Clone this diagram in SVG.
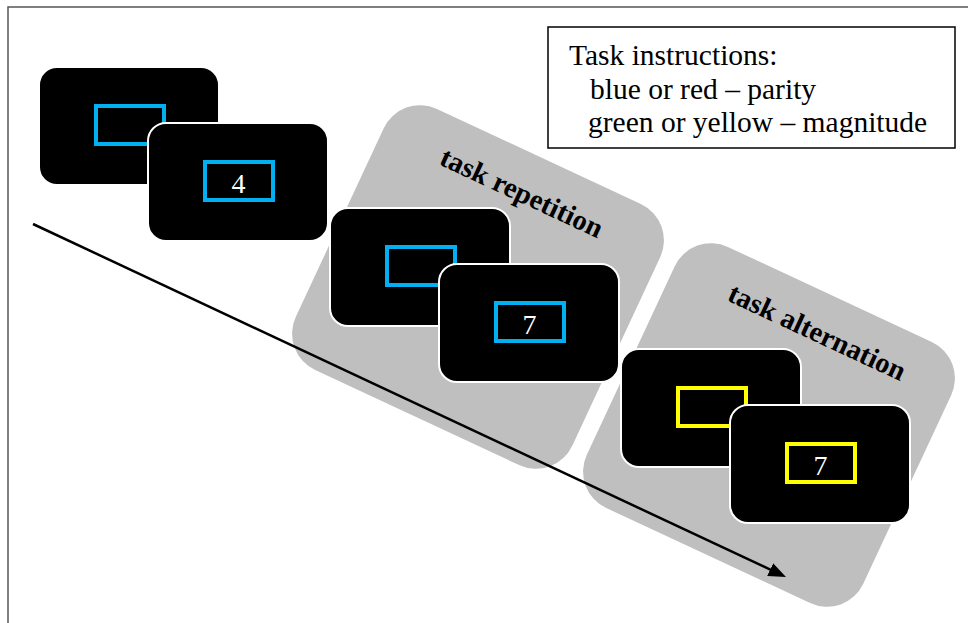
<svg xmlns="http://www.w3.org/2000/svg" width="968" height="623" viewBox="0 0 968 623">
  <style>
    .panel { fill: #BFBFBF; }
    .screen { fill: #000000; stroke: #FFFFFF; stroke-width: 2; }
    .cue-blue { fill: none; stroke: #00B0F0; stroke-width: 4; }
    .cue-yellow { fill: none; stroke: #FFFF00; stroke-width: 4; }
    .digit { font-family: "Liberation Serif", "Times New Roman", serif; font-size: 28px; fill: #FFFFFF; text-anchor: middle; }
    .label { font-family: "Liberation Serif", "Times New Roman", serif; font-size: 28.5px; font-weight: bold; fill: #000000; }
    .instr { font-family: "Liberation Serif", "Times New Roman", serif; font-size: 29.5px; fill: #000000; }
  </style>
  <defs>
    <marker id="arrowhead" markerWidth="7" markerHeight="5.6" refX="0.5" refY="2.8" orient="auto" markerUnits="strokeWidth">
      <path d="M0,0 L7,2.8 L0,5.6 z" fill="#000000"/>
    </marker>
  </defs>

  <rect width="968" height="623" fill="#FFFFFF"/>
  <path d="M8,640 V7 H990" fill="none" stroke="#555555" stroke-width="1.5"/>

  <g id="instructions">
    <rect x="548" y="27" width="407" height="121" fill="#FFFFFF" stroke="#000000" stroke-width="1.5"/>
    <text class="instr" x="569" y="65">Task instructions:</text>
    <text class="instr" x="590" y="98.5">blue or red – parity</text>
    <text class="instr" x="588" y="132">green or yellow – magnitude</text>
  </g>

  <g id="panel-repetition">
    <rect class="panel" x="-152.5" y="-144" width="305" height="288" rx="40" transform="translate(478 287) rotate(25)"/>
    <text class="label" transform="translate(438 164) rotate(25)">task repetition</text>
  </g>
  <g id="panel-alternation">
    <rect class="panel" x="-152.5" y="-144" width="305" height="288" rx="40" transform="translate(769 425) rotate(25)"/>
    <text class="label" transform="translate(726 300) rotate(25)">task alternation</text>
  </g>

  <g id="connectors">
    <line x1="33" y1="224" x2="771.3" y2="570.1" stroke="#000000" stroke-width="2.5" marker-end="url(#arrowhead)"/>
  </g>

  <g id="screen1">
    <rect class="screen" x="39" y="67" width="180" height="118" rx="18"/>
    <rect class="cue-blue" x="96" y="106" width="68" height="38"/>
  </g>
  <g id="screen2">
    <rect class="screen" x="148" y="123" width="180" height="118" rx="18"/>
    <rect class="cue-blue" x="205" y="162" width="68" height="38"/>
    <text class="digit" x="238.5" y="193">4</text>
  </g>
  <g id="screen3">
    <rect class="screen" x="330" y="208" width="180" height="118" rx="18"/>
    <rect class="cue-blue" x="387" y="247" width="68" height="38"/>
  </g>
  <g id="screen4">
    <rect class="screen" x="439" y="264" width="180" height="118" rx="18"/>
    <rect class="cue-blue" x="496" y="303" width="68" height="38"/>
    <text class="digit" x="529.5" y="334">7</text>
  </g>
  <g id="screen5">
    <rect class="screen" x="621" y="349" width="180" height="118" rx="18"/>
    <rect class="cue-yellow" x="678" y="388" width="68" height="38"/>
  </g>
  <g id="screen6">
    <rect class="screen" x="730" y="405" width="180" height="118" rx="18"/>
    <rect class="cue-yellow" x="787" y="444" width="68" height="38"/>
    <text class="digit" x="820.5" y="475">7</text>
  </g>
</svg>
